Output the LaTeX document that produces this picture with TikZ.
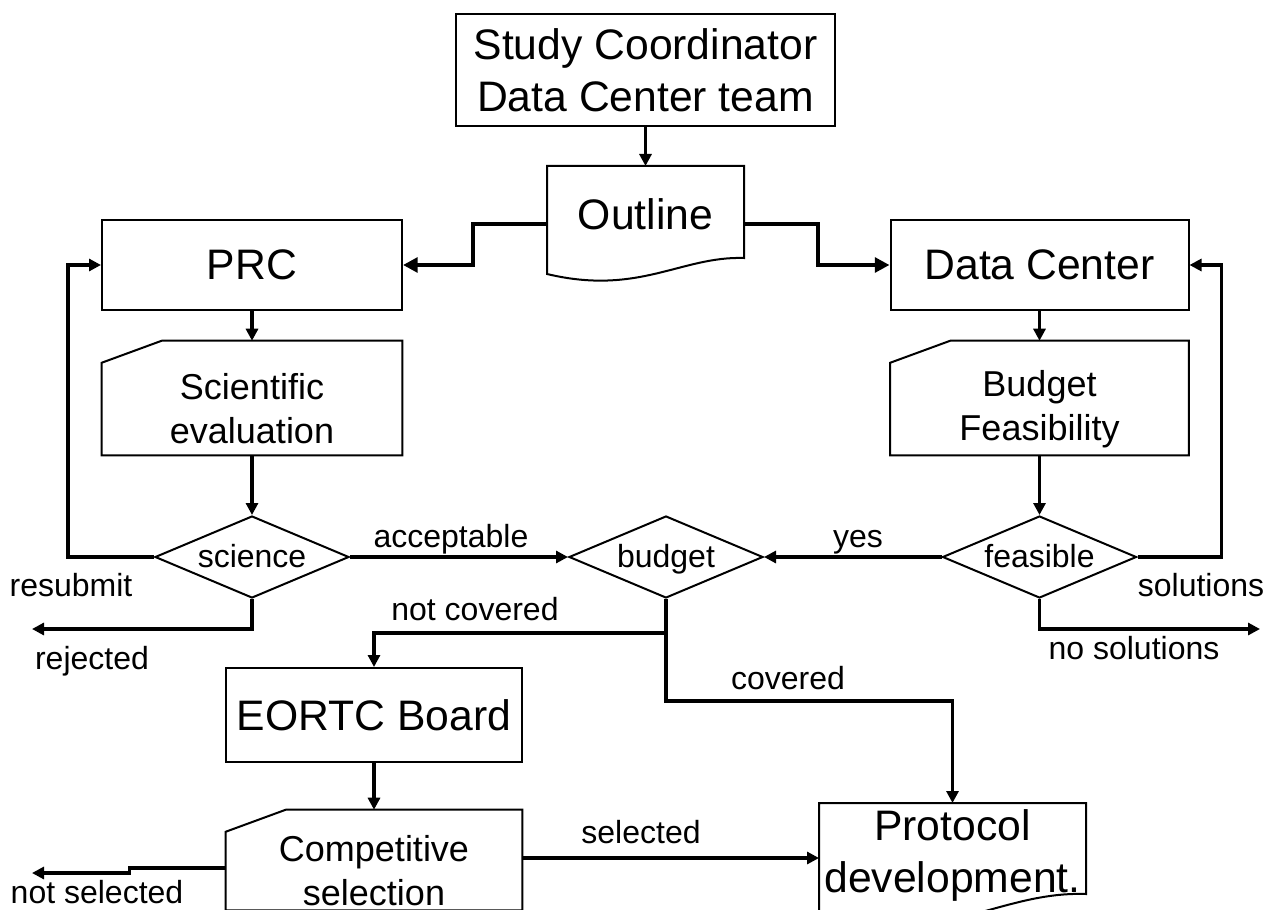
\documentclass[tikz,border=0pt]{standalone}
\usepackage{fontspec}
\setmainfont{Liberation Sans}
\usetikzlibrary{shapes.geometric,arrows.meta,calc}
\newcommand{\manualinput}[1]{\draw[line width=1.5pt] (#1.north west) -- ($(#1.north west)+(60,-22)$) -- ($(#1.north east)+(0,-22)$) -- (#1.south east) -- (#1.south west) -- cycle;}
\begin{document}
\begin{tikzpicture}[x=0.75pt,y=-0.75pt]
  \tikzstyle{box} = [draw, line width=1.5pt, inner sep=0pt, align=center, font=\fontsize{32}{39}\selectfont]
  \tikzstyle{card} = [inner sep=0pt, align=center, font=\fontsize{27}{33}\selectfont]
  \tikzstyle{test} = [draw, diamond, line width=1.5pt, inner sep=0pt, aspect=2.4, minimum width=145.5pt, minimum height=61.5pt, text height=19pt, text depth=3pt, font=\fontsize{24}{29}\selectfont]
  \tikzstyle{lbl} = [inner sep=0pt, text height=19pt, text depth=3pt, font=\fontsize{24}{29}\selectfont]
  \tikzstyle{flow} = [line width=2.6pt, -{Triangle[length=9pt,width=9pt]}]
  \tikzstyle{mainflow} = [line width=3.6pt, -{Triangle[length=11pt,width=11pt]}]
  \useasboundingbox (0,0) rectangle (1276,909);

  \node[box, minimum width=284.25pt, minimum height=84pt] (team) at (645.5,70) {Study Coordinator\\Data Center team};
  \node[box, draw=none, minimum width=146.25pt, minimum height=70.5pt] (outline) at (645.5,214) {Outline};
  \draw[line width=1.5pt] ($(outline.south west)+(0,12)$) -- (outline.north west) -- (outline.north east) -- ($(outline.south east)+(0,-4)$)
    .. controls ($(outline.south east)+(-63,-6)$) and ($(outline.south west)+(92,34)$) .. ($(outline.south west)+(0,12)$) -- cycle;
  \node[box, minimum width=225pt, minimum height=67.5pt] (prc) at (252,265) {PRC};
  \node[box, minimum width=223.5pt, minimum height=67.5pt] (dc) at (1039.5,265) {Data Center};
  \node[card, minimum width=225pt, minimum height=69pt] (se) at (252,409) {Scientific\\evaluation};
  \manualinput{se}
  \node[card, minimum width=223.5pt, minimum height=69pt] (bf) at (1039.5,409) {Budget\\Feasibility};
  \manualinput{bf}
  \node[test] (science) at (252,557) {science};
  \node[test] (budget) at (666,557) {budget};
  \node[test] (feasible) at (1039.5,557) {feasible};
  \node[box, minimum width=222pt, minimum height=70.5pt] (eortc) at (374,715) {EORTC Board};
  \node[card, minimum width=222pt, minimum height=58.5pt] (cs) at (374,871) {Competitive\\selection};
  \manualinput{cs}
  \node[box, draw=none, minimum width=198.75pt, minimum height=76.5pt] (pd) at (952.5,855) {Protocol\\development.};
  \draw[line width=1.5pt] ($(pd.south west)+(0,15)$) -- (pd.north west) -- (pd.north east) -- ($(pd.south east)+(0,-13)$)
    .. controls ($(pd.south east)+(-86,-16)$) and ($(pd.south west)+(125,39)$) .. ($(pd.south west)+(0,15)$) -- cycle;

  \coordinate (rej) at (32,629);
  \coordinate (nosol) at (1260,629);
  \coordinate (split) at (666,633);
  \coordinate (nsel) at (32,873);

  \draw[flow] (team) -- (outline);
  \draw[mainflow] ($(outline.west)+(0,10)$) -- ++(-74,0) |- (prc);
  \draw[mainflow] ($(outline.east)+(0,10)$) -- ++(74,0) |- (dc);
  \draw[flow] (prc) -- ($(se.north)+(0,-22)$);
  \draw[flow] (dc) -- ($(bf.north)+(0,-22)$);
  \draw[flow] (se) -- (science);
  \draw[flow] (bf) -- (feasible);
  \draw[flow] (science) -- (budget);
  \draw[flow] (feasible) -- (budget);
  \draw[flow] (science.west) -- ++(-86,0) |- (prc);
  \draw[flow] (feasible.east) -- ++(84,0) |- (dc);
  \draw[flow] (science.south) |- (rej);
  \draw[flow] (feasible.south) |- (nosol);
  \draw[flow] (budget.south) -- (split) -| (eortc);
  \draw[flow] (split) -- ++(0,68) -| (pd);
  \draw[flow] (eortc) -- ($(cs.north)+(0,-22)$);
  \draw[flow] ($(cs.east)+(0,-13)$) -- ($(pd.west)+(0,3)$);
  \draw[flow] ($(cs.west)+(0,-3)$) -- ++(-96,0) -- ++(0,5) -- (nsel);

  \node[lbl] (acc) at (451,537) {acceptable};
  \node[lbl] (yes) at (858,537) {yes};
  \node[lbl] (resub) at (71,586) {resubmit};
  \node[lbl] (sol) at (1201,586) {solutions};
  \node[lbl] (rejlbl) at (92,659) {rejected};
  \node[lbl] (nosollbl) at (1134,649) {no solutions};
  \node[lbl] (notcov) at (475,610) {not covered};
  \node[lbl] (cov) at (788,679) {covered};
  \node[lbl] (sel) at (641,833) {selected};
  \node[lbl] (nsellbl) at (97,893) {not selected};
\end{tikzpicture}
\end{document}
